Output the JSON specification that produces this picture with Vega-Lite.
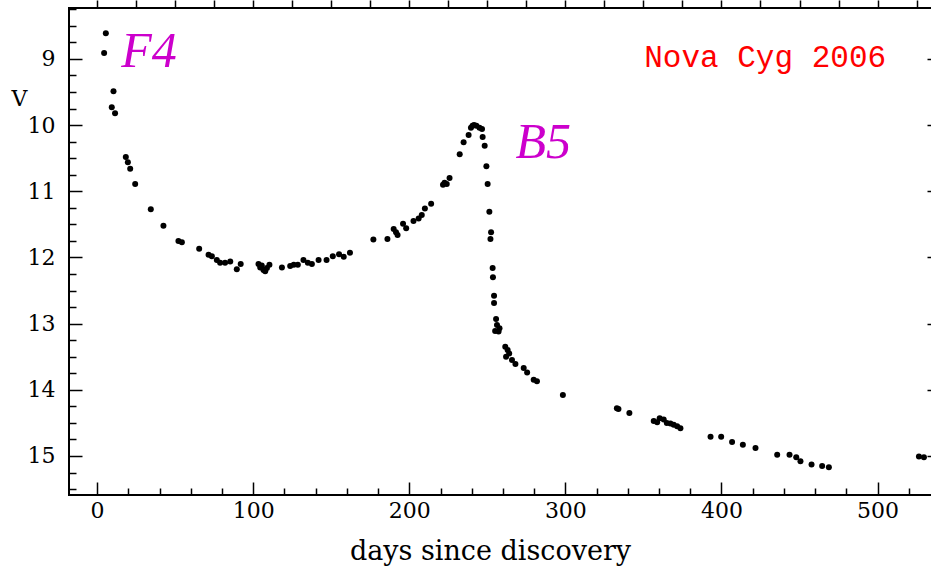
{
  "$schema": "https://vega.github.io/schema/vega-lite/v6.json",
  "width": 871,
  "height": 487,
  "autosize": {"type": "none"},
  "padding": {"left": 69, "top": 8, "right": 0, "bottom": 73},
  "background": "white",
  "config": {
    "view": {"stroke": "black", "strokeWidth": 2},
    "axis": {
      "domain": false,
      "grid": false,
      "tickColor": "black",
      "tickWidth": 1.5,
      "labelFont": "DejaVu Serif",
      "labelFontSize": 22,
      "labelColor": "black",
      "titleFont": "DejaVu Serif",
      "titleFontWeight": "normal",
      "titleColor": "black"
    }
  },
  "datasets": {
    "obs": [
      {"day": 5.6, "V": 8.61}, {"day": 4.5, "V": 8.91}, {"day": 10.5, "V": 9.49}, {"day": 9.4, "V": 9.73},
      {"day": 11.5, "V": 9.82}, {"day": 18.4, "V": 10.48}, {"day": 19.7, "V": 10.56}, {"day": 21.2, "V": 10.66},
      {"day": 24.4, "V": 10.89}, {"day": 34.4, "V": 11.27}, {"day": 42.5, "V": 11.52}, {"day": 52.1, "V": 11.75},
      {"day": 54.3, "V": 11.77}, {"day": 65.4, "V": 11.87}, {"day": 71.4, "V": 11.96}, {"day": 73.5, "V": 11.98},
      {"day": 76.7, "V": 12.04}, {"day": 78.8, "V": 12.08}, {"day": 82, "V": 12.08}, {"day": 85.3, "V": 12.06},
      {"day": 89.5, "V": 12.18}, {"day": 92, "V": 12.1}, {"day": 103.4, "V": 12.1}, {"day": 104.5, "V": 12.15},
      {"day": 105.5, "V": 12.12}, {"day": 106.6, "V": 12.19}, {"day": 107.7, "V": 12.21}, {"day": 108.8, "V": 12.16},
      {"day": 110.4, "V": 12.11}, {"day": 118.4, "V": 12.15}, {"day": 123.7, "V": 12.13}, {"day": 126, "V": 12.11},
      {"day": 128.6, "V": 12.11}, {"day": 132.2, "V": 12.04}, {"day": 135, "V": 12.08}, {"day": 137.6, "V": 12.1},
      {"day": 141.9, "V": 12.04}, {"day": 147, "V": 12.04}, {"day": 151, "V": 11.98}, {"day": 155, "V": 11.95},
      {"day": 158, "V": 11.99}, {"day": 162, "V": 11.93}, {"day": 177, "V": 11.73}, {"day": 186, "V": 11.72},
      {"day": 190, "V": 11.57}, {"day": 191.5, "V": 11.62}, {"day": 192.5, "V": 11.66}, {"day": 196, "V": 11.49},
      {"day": 198, "V": 11.56}, {"day": 202.7, "V": 11.45}, {"day": 206, "V": 11.41}, {"day": 208, "V": 11.36},
      {"day": 210, "V": 11.26}, {"day": 214, "V": 11.19}, {"day": 221.6, "V": 10.9}, {"day": 222.6, "V": 10.87},
      {"day": 224, "V": 10.89}, {"day": 225.8, "V": 10.8}, {"day": 232.3, "V": 10.44}, {"day": 234.8, "V": 10.26},
      {"day": 238, "V": 10.15}, {"day": 239.5, "V": 10.04}, {"day": 240.5, "V": 10.01}, {"day": 241.5, "V": 10.0},
      {"day": 243, "V": 10.01}, {"day": 245, "V": 10.04}, {"day": 246.6, "V": 10.06}, {"day": 247, "V": 10.18},
      {"day": 248.3, "V": 10.31}, {"day": 249.4, "V": 10.62}, {"day": 250.2, "V": 10.89}, {"day": 251.3, "V": 11.31},
      {"day": 252.4, "V": 11.62}, {"day": 252, "V": 11.72}, {"day": 253.4, "V": 12.16}, {"day": 253.6, "V": 12.3},
      {"day": 254.3, "V": 12.58}, {"day": 254.3, "V": 12.69}, {"day": 255.6, "V": 12.93}, {"day": 256.2, "V": 13.02},
      {"day": 255, "V": 13.11}, {"day": 257.2, "V": 13.12}, {"day": 257.8, "V": 13.07}, {"day": 261.5, "V": 13.35},
      {"day": 263, "V": 13.4}, {"day": 262, "V": 13.5}, {"day": 264, "V": 13.45}, {"day": 265.8, "V": 13.55},
      {"day": 268, "V": 13.61}, {"day": 273.3, "V": 13.67}, {"day": 275.5, "V": 13.74}, {"day": 279.7, "V": 13.85},
      {"day": 281.8, "V": 13.87}, {"day": 298.4, "V": 14.08}, {"day": 333, "V": 14.28}, {"day": 334, "V": 14.29},
      {"day": 341, "V": 14.35}, {"day": 356.6, "V": 14.47}, {"day": 358.8, "V": 14.49}, {"day": 360.4, "V": 14.43},
      {"day": 363, "V": 14.45}, {"day": 365, "V": 14.5}, {"day": 367.3, "V": 14.51}, {"day": 369.4, "V": 14.53},
      {"day": 371.6, "V": 14.55}, {"day": 373.7, "V": 14.58}, {"day": 393, "V": 14.71}, {"day": 399.8, "V": 14.71},
      {"day": 406.8, "V": 14.79}, {"day": 413.7, "V": 14.83}, {"day": 421.8, "V": 14.88}, {"day": 435.7, "V": 14.98},
      {"day": 443.6, "V": 14.98}, {"day": 447.9, "V": 15.02}, {"day": 450.6, "V": 15.08}, {"day": 457.7, "V": 15.13},
      {"day": 464.5, "V": 15.15}, {"day": 468.8, "V": 15.17}, {"day": 526.5, "V": 15.01}, {"day": 529.7, "V": 15.02}
    ],
    "types": [
      {"label": "F4", "day": 15.5, "V": 9.12},
      {"label": "B5", "day": 268, "V": 10.5}
    ],
    "name": [
      {"label": "Nova Cyg 2006", "day": 428, "V": 9.12}
    ]
  },
  "resolve": {"axis": {"x": "independent", "y": "independent"}},
  "layer": [
    {
      "data": {"name": "obs"},
      "mark": {"type": "circle", "size": 36, "color": "black", "opacity": 1},
      "encoding": {
        "x": {
          "field": "day", "type": "quantitative",
          "scale": {"domain": [-18, 540], "nice": false, "zero": false},
          "axis": {
            "orient": "bottom",
            "title": "days since discovery",
            "titleFontSize": 27,
            "titleX": 421,
            "titleY": 64,
            "titleBaseline": "alphabetic",
            "values": [0, 20, 40, 60, 80, 100, 120, 140, 160, 180, 200, 220, 240, 260, 280, 300, 320, 340, 360, 380, 400, 420, 440, 460, 480, 500, 520],
            "labelExpr": "datum.value % 100 === 0 ? datum.label : ''",
            "tickSize": {"condition": {"test": "datum.value % 100 === 0", "value": -13}, "value": -7},
            "labelPadding": 18,
            "labelFlush": false,
            "labelOverlap": false
          }
        },
        "y": {
          "field": "V", "type": "quantitative",
          "scale": {"domain": [15.59, 8.23], "nice": false, "zero": false},
          "axis": {
            "orient": "left",
            "title": "V",
            "titleAngle": 0,
            "titleFontSize": 22,
            "titleX": -50,
            "titleY": 90,
            "titleAlign": "center",
            "titleBaseline": "middle",
            "values": [8.25, 8.5, 8.75, 9, 9.25, 9.5, 9.75, 10, 10.25, 10.5, 10.75, 11, 11.25, 11.5, 11.75, 12, 12.25, 12.5, 12.75, 13, 13.25, 13.5, 13.75, 14, 14.25, 14.5, 14.75, 15, 15.25, 15.5],
            "labelExpr": "datum.value % 1 === 0 ? format(datum.value, 'd') : ''",
            "tickSize": {"condition": {"test": "datum.value % 1 === 0", "value": -13}, "value": -7},
            "labelPadding": 27,
            "labelFlush": false,
            "labelOverlap": false
          }
        }
      }
    },
    {
      "data": {"name": "types"},
      "mark": {"type": "text", "font": "Liberation Serif", "fontStyle": "italic", "fontSize": 50, "align": "left", "baseline": "alphabetic", "color": "#cc00cc"},
      "encoding": {
        "text": {"field": "label"},
        "x": {
          "field": "day", "type": "quantitative",
          "scale": {"domain": [-18, 540], "nice": false, "zero": false},
          "axis": {
            "orient": "top", "title": null, "labels": false,
            "values": [0, 25, 50, 75, 100, 125, 150, 175, 200, 225, 250, 275, 300, 325, 350, 375, 400, 425, 450, 475, 500, 525],
            "tickSize": 8
          }
        },
        "y": {
          "field": "V", "type": "quantitative",
          "scale": {"domain": [15.59, 8.23], "nice": false, "zero": false},
          "axis": {
            "orient": "right", "title": null, "labels": false,
            "values": [8.25, 8.5, 8.75, 9, 9.25, 9.5, 9.75, 10, 10.25, 10.5, 10.75, 11, 11.25, 11.5, 11.75, 12, 12.25, 12.5, 12.75, 13, 13.25, 13.5, 13.75, 14, 14.25, 14.5, 14.75, 15, 15.25, 15.5],
            "tickSize": {"condition": {"test": "datum.value % 1 === 0", "value": -13}, "value": -7}
          }
        }
      }
    },
    {
      "data": {"name": "name"},
      "mark": {"type": "text", "font": "Liberation Mono", "fontSize": 31, "align": "center", "baseline": "alphabetic", "color": "#ff0000"},
      "encoding": {
        "text": {"field": "label"},
        "x": {"field": "day", "type": "quantitative", "axis": null},
        "y": {"field": "V", "type": "quantitative", "axis": null}
      }
    }
  ]
}
